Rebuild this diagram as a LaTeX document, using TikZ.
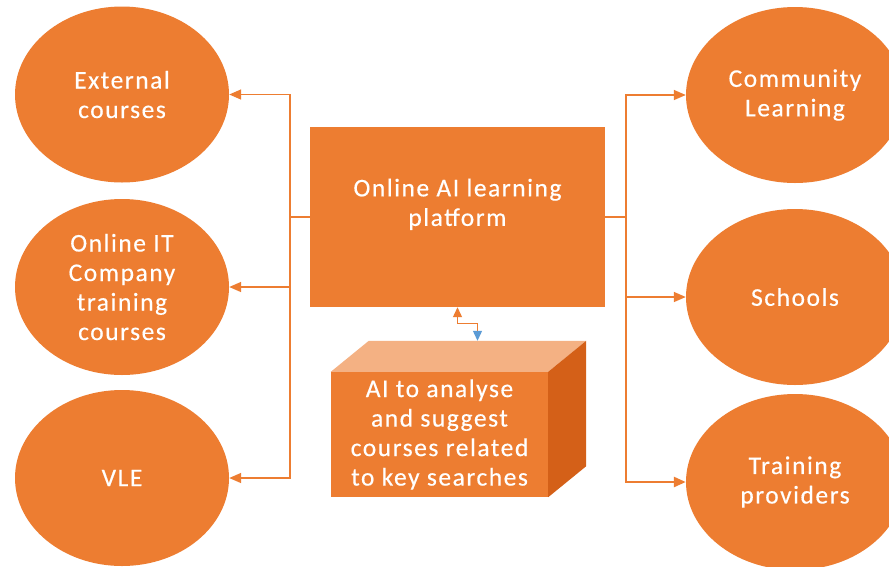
\documentclass[tikz,border=0pt]{standalone}
\usepackage{fontspec}
\setmainfont{Carlito}[LetterSpace=6,FakeBold=0.4]
\usetikzlibrary{arrows.meta,shapes.geometric,calc}
\definecolor{org}{HTML}{ED7D31}
\definecolor{orgl}{HTML}{F4B183}
\definecolor{orgd}{HTML}{D46018}
\definecolor{blu}{HTML}{5B9BD5}
\begin{document}
\begin{tikzpicture}[x=1pt,y=-1pt,
  bubble/.style={ellipse, fill=org, text=white, inner sep=0pt, align=center,
    font=\fontsize{25.5}{29.5}\selectfont},
  lbub/.style={bubble, minimum width=214pt, minimum height=176pt},
  rbub/.style={bubble, minimum width=218pt, minimum height=176pt},
  boxnode/.style={rectangle, fill=org, text=white, inner sep=0pt, align=center,
    font=\fontsize{25.5}{29.5}\selectfont},
  conn/.style={draw=org, line width=1.5pt},
  tip/.style={-{Triangle[length=12pt,width=10pt]}}
]
\clip (0,0) rectangle (889,566);
\fill[white] (0,0) rectangle (889,566);

% central platform
\node[boxnode, minimum width=295pt, minimum height=180pt] (plat) at (457.5,217)
  {Online AI learning\\platform\\\mbox{}};

% left ellipses
\node[lbub] (e1) at (122,94.5) {External\\courses};
\node[lbub] (e2) at (122,287) {Online IT\\Company\\training\\courses};
\node[lbub] (e3) at (122,478) {VLE};

% right ellipses
\node[rbub] (r1) at (795,95) {Community\\Learning};
\node[rbub] (r2) at (795,297) {Schools};
\node[rbub] (r3) at (795,482) {Training\\providers};

% cube
\node[boxnode, minimum width=217pt, minimum height=125pt] (cube) at (439.5,434.5)
  {AI to analyse\\and suggest\\courses related\\to key searches};
\fill[orgl] (cube.north west) -- ($(cube.north west)+(38,-31)$)
  -- ($(cube.north east)+(38,-31)$) -- (cube.north east) -- cycle;
\fill[orgd] (cube.north east) -- ($(cube.north east)+(38,-31)$)
  -- ($(cube.south east)+(38,-31)$) -- (cube.south east) -- cycle;
\coordinate (ctop) at ($(cube.north)+(38,-31)$);

% junctions
\coordinate (jl) at (290,217);
\coordinate (jr) at (626,217);

% left connectors
\draw[conn] (plat.west) -- (jl);
\draw[conn,tip] (jl) |- (e1.east);
\draw[conn,tip] (jl) |- (e2.east);
\draw[conn,tip] (jl) |- (e3.east);

% right connectors
\draw[conn] (plat.east) -- (jr);
\draw[conn,tip] (jr) |- (r1.west);
\draw[conn,tip] (jr) |- (r2.west);
\draw[conn,tip,line width=2.5pt] (jr) |- (r3.west);

% platform <-> AI cube
\draw[conn, line width=1.2pt,
  {Triangle[length=10pt,width=9pt]}-{Triangle[length=10pt,width=9pt,color=blu]}]
  (plat.south) -- ++(0,16) -| (ctop);
\end{tikzpicture}
\end{document}
